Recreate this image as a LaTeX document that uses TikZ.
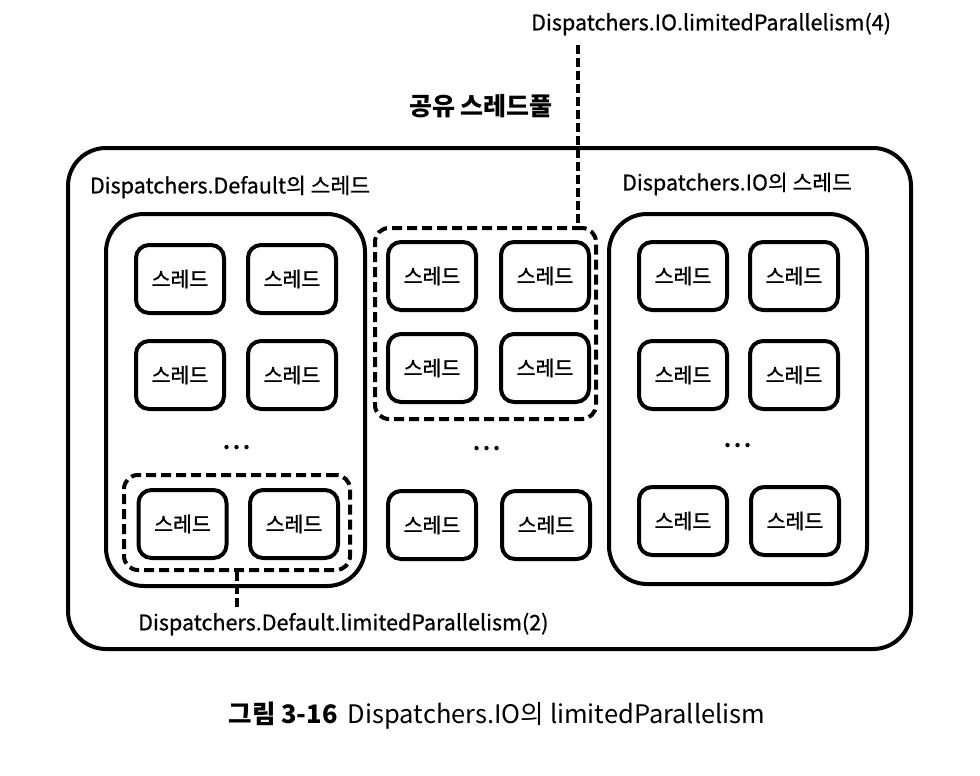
\documentclass[tikz,border=0pt]{standalone}
\usepackage{fontspec}
\setmainfont{Noto Sans CJK KR}
\newfontfamily\medfont[FakeBold=0.8]{Noto Sans CJK KR}
\newfontfamily\thrfont[FakeBold=1.3]{Noto Sans CJK KR}
\begin{document}
\begin{tikzpicture}[x=1pt,y=-1pt,
  container/.style={draw, line width=4pt, rounded corners=38pt, inner sep=0pt},
  group/.style={draw, line width=4pt, dash pattern=on 10pt off 5pt, rounded corners=14pt, inner sep=0pt},
  thread/.style={draw, line width=4pt, rounded corners=13pt, inner sep=0pt,
    minimum width=88pt, minimum height=68pt, font=\thrfont\fontsize{20.5}{20.5}\selectfont},
  lbl/.style={inner sep=2pt, font=\medfont\fontsize{21.5}{21.5}\selectfont},
  dots/.style={inner sep=0pt, font=\fontsize{20}{20}\selectfont\bfseries},
  conn/.style={line width=3.5pt, dash pattern=on 9pt off 4pt}
]
\useasboundingbox (0,0) rectangle (980,776);
% containers
\node[container, minimum width=843pt, minimum height=501pt] (outer) at (489.5,398.5) {};
\node[container, minimum width=259pt, minimum height=372pt] (def) at (235.5,400) {};
\node[container, minimum width=258pt, minimum height=370pt] (io) at (738,399) {};
\node[group, minimum width=221pt, minimum height=191pt] (pool) at (485.5,323.5) {};
\node[group, minimum width=226pt, minimum height=95pt] (defpar) at (237,522.5) {};
% labels
\node[lbl] (ldef) at (230,187) {Dispatchers.Default의 스레드};
\node[lbl] (lio) at (737,184) {Dispatchers.IO의 스레드};
\node[lbl, anchor=west] (ltop) at (529,24) {Dispatchers.IO.limitedParallelism(4)};
\node[lbl, anchor=west] (lbot) at (136,624) {Dispatchers.Default.limitedParallelism(2)};
\node[anchor=east, inner sep=0pt, font=\fontsize{25}{25}\selectfont\bfseries] (shared) at (553,106) {공유 스레드풀};
\node[inner sep=0pt, font=\fontsize{25.5}{25.5}\selectfont] (caption) at (497,716) {\textbf{그림 3-16}\hspace{0.4em}Dispatchers.IO의 limitedParallelism};
% threads: default
\node[thread] (d1) at (180,279) {스레드};
\node[thread] (d2) at (292,279) {스레드};
\node[thread] (d3) at (180,375) {스레드};
\node[thread] (d4) at (292,375) {스레드};
\node[thread] (d5) at (182.5,524) {스레드};
\node[thread] (d6) at (294,524) {스레드};
% threads: middle
\node[thread] (m1) at (432,276) {스레드};
\node[thread] (m2) at (545,276) {스레드};
\node[thread] (m3) at (432,368) {스레드};
\node[thread] (m4) at (545,368) {스레드};
\node[thread] (m5) at (432,525) {스레드};
\node[thread] (m6) at (546,525) {스레드};
% threads: io
\node[thread] (i1) at (683,276) {스레드};
\node[thread] (i2) at (794,276) {스레드};
\node[thread] (i3) at (683,375) {스레드};
\node[thread] (i4) at (794,375) {스레드};
\node[thread] (i5) at (683,521) {스레드};
\node[thread] (i6) at (795,521) {스레드};
% dots
\node[dots] (dd) at (237,448) {.\hspace{3pt}.\hspace{3pt}.};
\node[dots] (md) at (487,449) {.\hspace{3pt}.\hspace{3pt}.};
\node[dots] (id) at (738,446) {.\hspace{3pt}.\hspace{3pt}.};
% connectors
\coordinate (tx) at (578,0);
\coordinate (bx) at (237,0);
\draw[conn] ([yshift=-8pt]ltop.south -| tx) -- (pool.north -| tx);
\draw[conn] (defpar.south -| bx) -- (lbot.north -| bx);
\end{tikzpicture}
\end{document}
